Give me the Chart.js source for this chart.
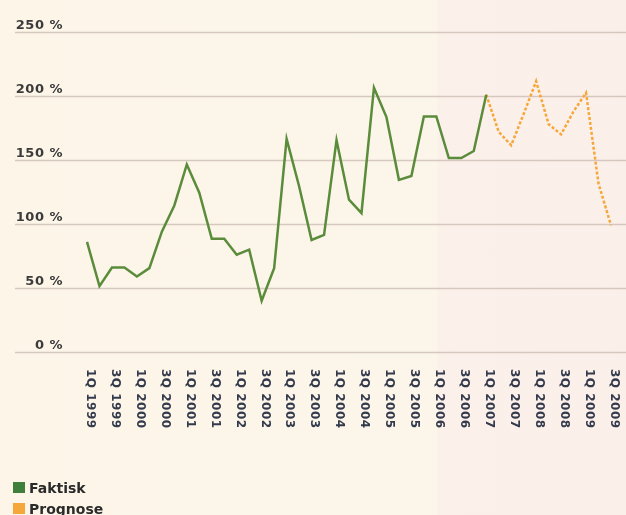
<!DOCTYPE html>
<html>
<head>
<meta charset="utf-8">
<script src="https://cdn.jsdelivr.net/npm/chart.js@4.4.1/dist/chart.umd.min.js"></script>
<style>
  html, body {
    margin: 0;
    padding: 0;
    width: 626px;
    height: 515px;
    overflow: hidden;
    background: linear-gradient(to right, #fcf5e8 0px, #fcf5e9 437px, #fcf0ea 439px, #fbefe9 626px);
  }
  #wrap {
    position: relative;
    width: 626px;
    height: 515px;
  }
  #legend {
    position: absolute;
    left: 13px;
    top: 477px;
    font: bold 14px "DejaVu Sans", sans-serif;
    color: #2b2b2b;
  }
  .item {
    display: flex;
    align-items: center;
    height: 21px;
  }
  .swatch {
    width: 12px;
    height: 11px;
    margin-right: 4px;
  }
</style>
</head>
<body>
<div id="wrap">
  <canvas id="chart" width="626" height="515"></canvas>
  <div id="legend"></div>
</div>
<script>
const quarters = [
  "1Q 1999", "2Q 1999", "3Q 1999", "4Q 1999",
  "1Q 2000", "2Q 2000", "3Q 2000", "4Q 2000",
  "1Q 2001", "2Q 2001", "3Q 2001", "4Q 2001",
  "1Q 2002", "2Q 2002", "3Q 2002", "4Q 2002",
  "1Q 2003", "2Q 2003", "3Q 2003", "4Q 2003",
  "1Q 2004", "2Q 2004", "3Q 2004", "4Q 2004",
  "1Q 2005", "2Q 2005", "3Q 2005", "4Q 2005",
  "1Q 2006", "2Q 2006", "3Q 2006", "4Q 2006",
  "1Q 2007", "2Q 2007", "3Q 2007", "4Q 2007",
  "1Q 2008", "2Q 2008", "3Q 2008", "4Q 2008",
  "1Q 2009", "2Q 2009", "3Q 2009",
];

// Faktisk, 1Q 1999 - 1Q 2007
const actual = [
  86, 51.5, 66, 66, 59, 65.5, 94, 114.5,
  146.5, 124.5, 88.5, 88.5, 76, 80, 40, 65.5,
  166.5, 129.5, 87.5, 91.5, 165.5, 119, 108.5, 206.5,
  183.5, 134.5, 137.5, 184, 184, 151.5, 151.5, 157,
  201,
];

// Prognose, 1Q 2007 - 3Q 2009
const forecast = [201, 172, 161.5, 186, 211.5, 178, 170, 188, 202.5, 131.5, 99];

const yTicks = [0, 50, 100, 150, 200, 250];

const green = "#5a8c3b";
const orange = "#f6a73a";

const forecastData = Array(actual.length - 1).fill(null).concat(forecast);

const gridAndLabels = {
  id: "gridAndLabels",
  beforeDatasetsDraw(chart) {
    const ctx = chart.ctx;
    const yAxis = chart.scales.y;
    ctx.save();
    ctx.strokeStyle = "rgba(175, 160, 150, 0.5)";
    ctx.lineWidth = 1.5;
    ctx.font = "bold 13px 'DejaVu Sans', sans-serif";
    ctx.letterSpacing = "0.5px";
    ctx.fillStyle = "#3b3b3b";
    ctx.textAlign = "right";
    ctx.textBaseline = "alphabetic";
    yTicks.forEach((v) => {
      const y = Math.round(yAxis.getPixelForValue(v)) + 0.5;
      ctx.beginPath();
      ctx.moveTo(15, y);
      ctx.lineTo(chart.width, y);
      ctx.stroke();
      ctx.fillText(v + " %", 63, y - 4);
    });
    ctx.restore();
  },
  afterDraw(chart) {
    const ctx = chart.ctx;
    const xAxis = chart.scales.x;
    ctx.save();
    ctx.font = "bold 12px 'DejaVu Sans', sans-serif";
    ctx.letterSpacing = "0.5px";
    ctx.fillStyle = "#333a4c";
    ctx.textAlign = "left";
    ctx.textBaseline = "middle";
    quarters.forEach((label, i) => {
      if (i % 2 !== 0) return;
      const x = xAxis.getPixelForValue(i) + 3;
      ctx.save();
      ctx.translate(x, 369);
      ctx.rotate(Math.PI / 2);
      ctx.fillText(label, 0, 0);
      ctx.restore();
    });
    ctx.restore();
  },
};

new Chart(document.getElementById("chart"), {
  type: "line",
  data: {
    labels: quarters,
    datasets: [
      {
        label: "Faktisk",
        data: actual,
        borderColor: green,
        backgroundColor: green,
        borderWidth: 2.5,
        pointRadius: 0,
        tension: 0,
        borderJoinStyle: "miter",
      },
      {
        label: "Prognose",
        data: forecastData,
        borderColor: orange,
        backgroundColor: orange,
        borderWidth: 2.5,
        borderDash: [3, 2],
        pointRadius: 0,
        tension: 0,
        borderJoinStyle: "miter",
      },
    ],
  },
  options: {
    responsive: false,
    animation: false,
    layout: {
      padding: { left: 87, right: 15, top: 32, bottom: 163 },
    },
    plugins: {
      legend: { display: false },
      tooltip: { enabled: false },
    },
    scales: {
      x: { display: false, offset: false },
      y: { display: false, min: 0, max: 250 },
    },
  },
  plugins: [gridAndLabels],
});

// legend, stacked like the original
const legend = document.getElementById("legend");
[["Faktisk", "#3f7f3c"], ["Prognose", orange]].forEach(([name, color]) => {
  const item = document.createElement("div");
  item.className = "item";
  item.innerHTML = `<div class="swatch" style="background:${color}"></div><span>${name}</span>`;
  legend.appendChild(item);
});
</script>
</body>
</html>
